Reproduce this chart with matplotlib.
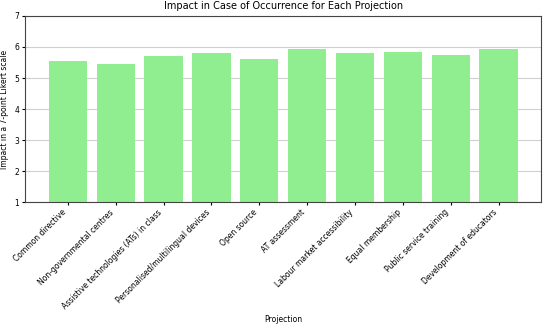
import matplotlib.pyplot as plt

projections = [
    "Common directive",
    "Non-governmental centres",
    "Assistive technologies (ATs) in class",
    "Personalised/multilingual devices",
    "Open source",
    "AT assessment",
    "Labour market accessibility",
    "Equal membership",
    "Public service training",
    "Development of educators",
]
impact = [5.56, 5.44, 5.70, 5.79, 5.61, 5.94, 5.81, 5.83, 5.73, 5.94]

fig = plt.figure(figsize=(5.5, 3.25), dpi=100)
ax = fig.add_axes([0.046, 0.378, 0.938, 0.573])

ax.bar(range(len(projections)), impact, color='lightgreen', zorder=2)
ax.set_ylim(1, 7)
ax.set_yticks(range(1, 8))
ax.set_xticks(range(len(projections)))
ax.set_xticklabels(projections, rotation=45, ha='right', fontsize=5.5)
ax.tick_params(axis='y', labelsize=5.5, length=2.5, pad=2)
ax.tick_params(axis='x', length=2.5, pad=1.5)
ax.grid(axis='y', color='#d0d0d0', linewidth=0.8, zorder=0)
for s in ax.spines.values():
    s.set_color('#444444')
    s.set_linewidth(0.8)

ax.set_title('Impact in Case of Occurrence for Each Projection', fontsize=7, pad=5)
ax.set_ylabel('Impact in a 7-point Likert scale', fontsize=5.5, labelpad=4)
ax.set_xlabel('Projection', fontsize=5.5, labelpad=3)

fig.savefig('out.png', dpi=100)
